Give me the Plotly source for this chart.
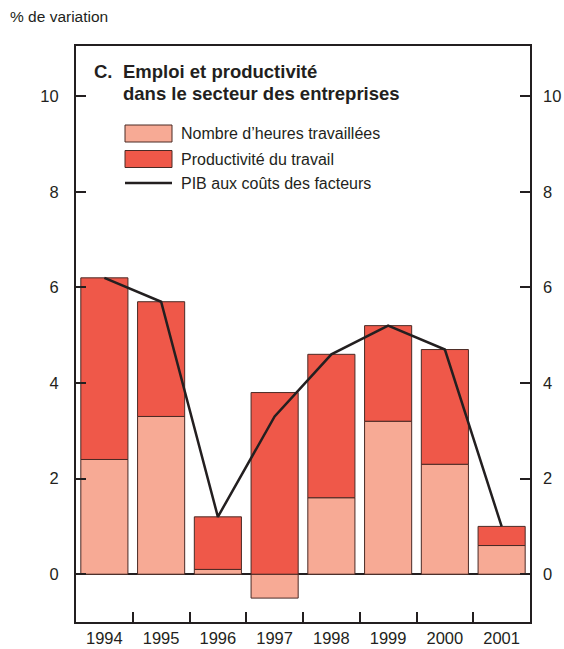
import plotly.graph_objects as go

years = ["1994", "1995", "1996", "1997", "1998", "1999", "2000", "2001"]
hours = [2.4, 3.3, 0.1, -0.5, 1.6, 3.2, 2.3, 0.6]
productivity = [3.8, 2.4, 1.1, 3.8, 3.0, 2.0, 2.4, 0.4]
gdp = [6.2, 5.7, 1.2, 3.3, 4.6, 5.2, 4.7, 1.0]
y_ticks = [0, 2, 4, 6, 8, 10]

C_LIGHT = "#F7AA95"
C_DARK = "#EF5849"
C_EDGE = "#4a2a25"
FONT = "Liberation Sans, Arial, sans-serif"

W, H = 564, 649
L, R, T, B = 76, 530, 46, 622
def px(x):
    return (x - L) / (R - L)
def py(y):
    return (B - y) / (B - T)

fig = go.Figure()
fig.add_trace(go.Bar(x=years, y=hours, marker=dict(color=C_LIGHT, line=dict(color=C_EDGE, width=1)),
                     width=0.83, name="Nombre d’heures travaillées", showlegend=False))
fig.add_trace(go.Bar(x=years, y=productivity, marker=dict(color=C_DARK, line=dict(color=C_EDGE, width=1)),
                     width=0.83, name="Productivité du travail", showlegend=False))
fig.add_trace(go.Scatter(x=years, y=gdp, mode="lines", line=dict(color="#231f20", width=2.5),
                         name="PIB aux coûts des facteurs", showlegend=False))
fig.add_trace(go.Scatter(x=years, y=gdp, yaxis="y2", mode="lines", line=dict(width=0),
                         hoverinfo="skip", showlegend=False, opacity=0))

yr = [-1.0, 11.05]
fig.update_layout(
    width=W, height=H,
    margin=dict(l=L, r=W - R, t=T, b=H - B, autoexpand=False),
    paper_bgcolor="white", plot_bgcolor="white",
    barmode="relative",
    font=dict(family=FONT, size=16, color="#231f20"),
    xaxis=dict(type="category", showline=True, linecolor="#231f20", linewidth=2, mirror=True,
               ticks="inside", tickson="boundaries", ticklen=10, tickwidth=2, tickcolor="#231f20",
               showgrid=False, tickfont=dict(size=16.5), automargin=False),
    yaxis=dict(range=yr, showline=True, linecolor="#231f20", linewidth=2, mirror=True,
               ticks="inside", ticklen=10, tickwidth=1.5, tickcolor="#231f20",
               tickvals=y_ticks, showgrid=False, zeroline=True, zerolinecolor="#231f20",
               zerolinewidth=2, tickfont=dict(size=16.5), ticklabelstandoff=12, automargin=False),
    yaxis2=dict(range=yr, overlaying="y", side="right", showline=False,
                ticks="inside", ticklen=10, tickwidth=1.5, tickcolor="#231f20",
                tickvals=y_ticks, showgrid=False, zeroline=False,
                tickfont=dict(size=16.5), ticklabelstandoff=12, automargin=False),
)

fig.add_annotation(text="% de variation", xref="paper", yref="paper", x=px(8), y=py(16),
                   xanchor="left", yanchor="middle", showarrow=False, font=dict(size=15.5))
fig.add_annotation(text="<b>C.</b>", xref="paper", yref="paper", x=px(92), y=py(71),
                   xanchor="left", yanchor="middle", showarrow=False, font=dict(size=18.5))
fig.add_annotation(text="<b>Emploi et productivité</b>", xref="paper", yref="paper", x=px(121), y=py(71),
                   xanchor="left", yanchor="middle", showarrow=False, font=dict(size=18.5))
fig.add_annotation(text="<b>dans le secteur des entreprises</b>", xref="paper", yref="paper", x=px(121), y=py(93),
                   xanchor="left", yanchor="middle", showarrow=False, font=dict(size=18.5))

leg = [(C_LIGHT, "Nombre d’heures travaillées", 133.5),
       (C_DARK, "Productivité du travail", 159)]
for col, txt, yc in leg:
    fig.add_shape(type="rect", xref="paper", yref="paper", x0=px(125), x1=px(172),
                  y0=py(yc - 8.5), y1=py(yc + 8.5), fillcolor=col, line=dict(color=C_EDGE, width=1))
    fig.add_annotation(text=txt, xref="paper", yref="paper", x=px(179), y=py(yc),
                       xanchor="left", yanchor="middle", showarrow=False, font=dict(size=16))
fig.add_shape(type="line", xref="paper", yref="paper", x0=px(125), x1=px(172), y0=py(183), y1=py(183),
              line=dict(color="#231f20", width=2.5))
fig.add_annotation(text="PIB aux coûts des facteurs", xref="paper", yref="paper", x=px(179), y=py(183),
                   xanchor="left", yanchor="middle", showarrow=False, font=dict(size=16))

fig.write_html("out.html", config={"displayModeBar": False},
               post_script="document.body.style.margin='0px';")
